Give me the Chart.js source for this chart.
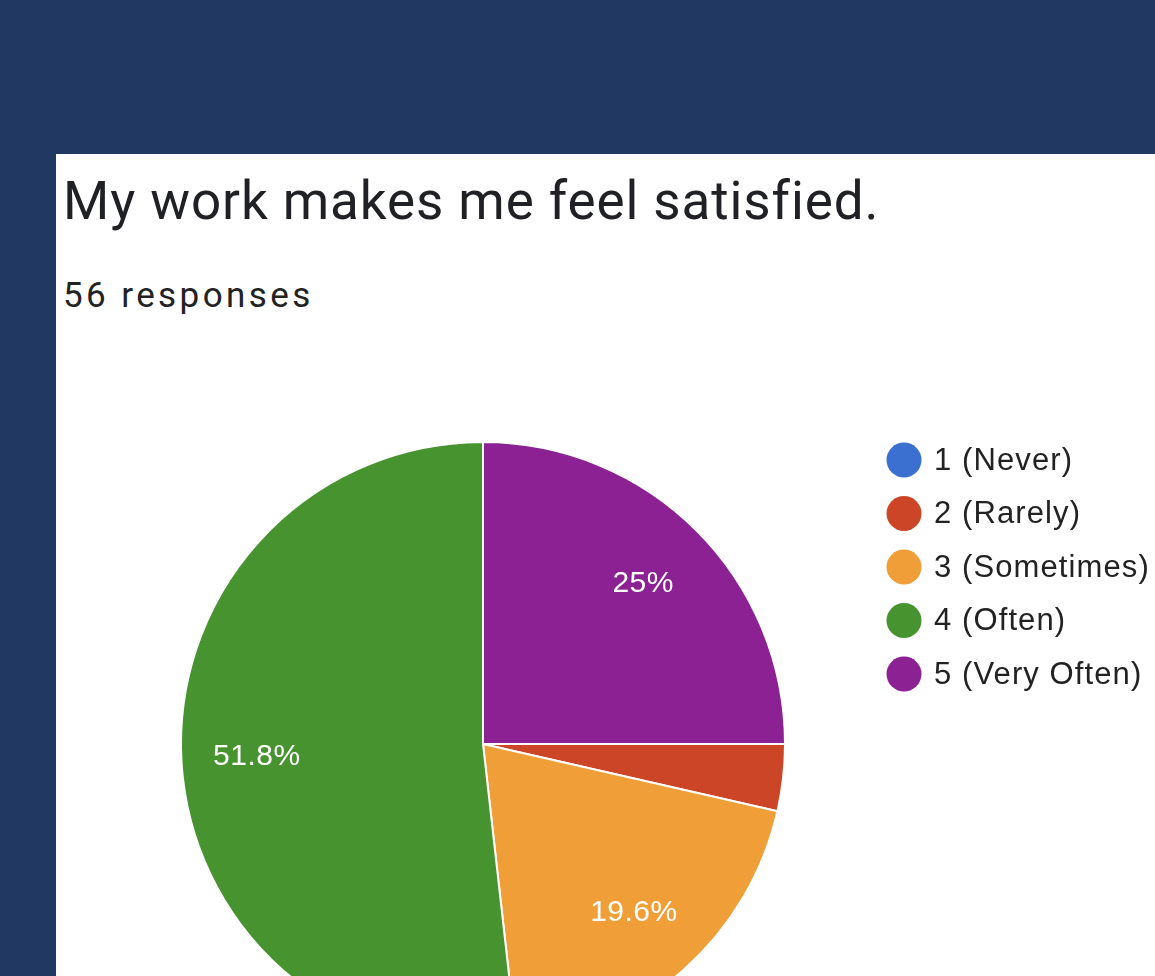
<!DOCTYPE html>
<html>
<head>
<meta charset="utf-8">
<title>My work makes me feel satisfied.</title>
<script src="https://cdn.jsdelivr.net/npm/chart.js@4"></script>
<style>
    html, body {
        margin: 0;
        padding: 0;
        width: 1155px;
        height: 976px;
        overflow: hidden;
        background: #213862;
    }
    .card {
        position: absolute;
        left: 56px;
        top: 154px;
        width: 1099px;
        height: 822px;
        background: #fff;
    }
    .title, .sub {
        position: absolute;
        left: 63px;
        white-space: nowrap;
        font-family: Roboto, sans-serif;
        color: #202124;
        line-height: 1;
    }
    .title {
        top: 175px;
        font-size: 53px;
        letter-spacing: 0.9px;
    }
    .sub {
        top: 278px;
        font-size: 35px;
        letter-spacing: 3.4px;
        color: #222;
    }
    #chart {
        position: absolute;
        left: 0;
        top: 0;
    }
</style>
</head>
<body>
<div class="card"></div>
<div class="title">My work makes me feel satisfied.</div>
<div class="sub">56 responses</div>
<canvas id="chart" width="1155" height="1100"></canvas>

<script>
const labels = ['1 (Never)', '2 (Rarely)', '3 (Sometimes)', '4 (Often)', '5 (Very Often)'];
const counts = [0, 2, 11, 29, 14];
const colors = ['#3b6fd0', '#cc4527', '#f09e38', '#46932f', '#8b2193'];

const total = counts.reduce((a, b) => a + b, 0);

function pctText(v) {
    const p = Math.round(v / total * 1000) / 10;
    return (p % 1 === 0 ? p.toFixed(0) : p.toFixed(1)) + '%';
}

// white percentage inside each slice big enough to hold it
const sliceLabels = {
    id: 'sliceLabels',
    afterDatasetsDraw(chart) {
        const ctx = chart.ctx;
        const arcs = chart.getDatasetMeta(0).data;
        ctx.save();
        ctx.font = '30px "Liberation Sans", Arial, sans-serif';
        ctx.letterSpacing = '0.5px';
        ctx.fillStyle = '#fff';
        ctx.textAlign = 'center';
        ctx.textBaseline = 'middle';
        arcs.forEach((arc, i) => {
            const v = counts[i];
            if (v / total < 0.05) return;
            const mid = (arc.startAngle + arc.endAngle) / 2;
            const r = arc.outerRadius * 0.75;
            ctx.fillText(pctText(v), arc.x + Math.cos(mid) * r, arc.y + Math.sin(mid) * r);
        });
        ctx.restore();
    }
};

// legend on the right, dot + label per row
const sideLegend = {
    id: 'sideLegend',
    afterDraw(chart) {
        const ctx = chart.ctx;
        ctx.save();
        ctx.font = '31px "Liberation Sans", Arial, sans-serif';
        ctx.letterSpacing = '1.1px';
        ctx.textBaseline = 'middle';
        labels.forEach((lab, i) => {
            const y = 460 + i * 53.5;
            ctx.beginPath();
            ctx.arc(904, y, 17.5, 0, Math.PI * 2);
            ctx.fillStyle = colors[i];
            ctx.fill();
            ctx.fillStyle = '#222';
            ctx.fillText(lab, 934, y + 1);
        });
        ctx.restore();
    }
};

new Chart(document.getElementById('chart'), {
    type: 'pie',
    data: {
        labels: labels,
        datasets: [{
            data: counts,
            backgroundColor: colors,
            borderColor: '#fff',
            borderWidth: 2
        }]
    },
    options: {
        responsive: false,
        animation: false,
        rotation: 90,
        events: [],
        layout: {
            padding: { left: 180, top: 441, right: 369, bottom: 53 }
        },
        plugins: {
            legend: { display: false },
            tooltip: { enabled: false }
        }
    },
    plugins: [sliceLabels, sideLegend]
});
</script>
</body>
</html>
